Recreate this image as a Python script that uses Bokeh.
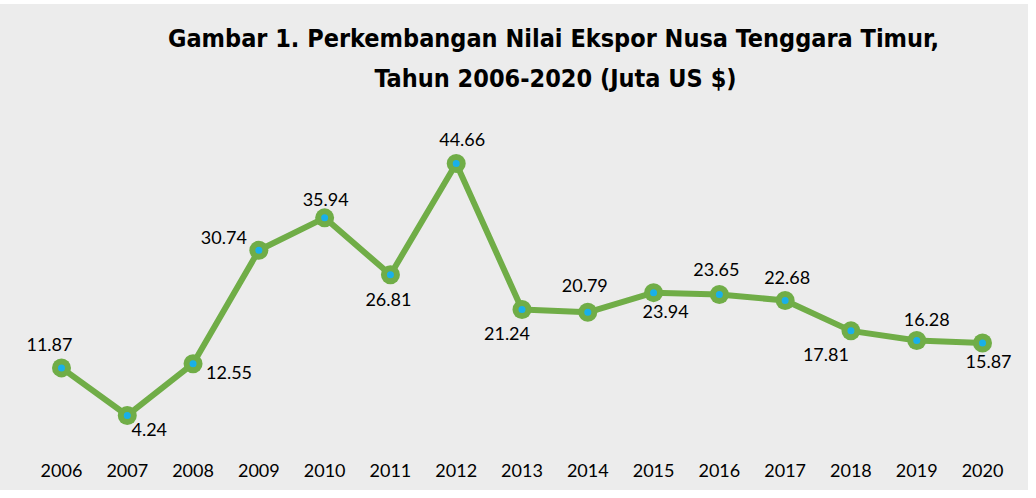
from bokeh.plotting import figure
from bokeh.models import ColumnDataSource, Range1d, Label, FixedTicker, Spacer
from bokeh.layouts import column
from bokeh.core.properties import value
from bokeh.embed import file_html
from bokeh.resources import INLINE

# ---- data ----
years = [2006, 2007, 2008, 2009, 2010, 2011, 2012, 2013, 2014, 2015, 2016, 2017, 2018, 2019, 2020]
export_values = [11.87, 4.24, 12.55, 30.74, 35.94, 26.81, 44.66, 21.24, 20.79, 23.94, 23.65, 22.68, 17.81, 16.28, 15.87]
title_lines = ["Gambar 1. Perkembangan Nilai Ekspor Nusa Tenggara Timur,",
               "Tahun 2006-2020 (Juta US $)"]

# data-label placement (pixel offsets of each label from its point)
label_dx = [-12, 22, 36, -35, 1, -2, 6, -15, -3, 12, -3, 2, -25, 10, 6]
label_dy = [-23, 14, 9, -13, -18, 25, -24, 24, -27, 19, -25, -23, 24, -21, 19]

BG = "#ececec"
GREEN = "#70ad47"
BLUE = "#19b0ea"

labels = [f"{v:.2f}" for v in export_values]
src = ColumnDataSource(dict(x=years, y=export_values, lab=labels, dx=label_dx, dy=label_dy))

p = figure(width=1028, height=486, output_backend="svg", toolbar_location=None,
           x_range=Range1d(2005.073, 2020.699), y_range=Range1d(-2.18, 70.16),
           y_axis_location=None,
           min_border_left=0, min_border_right=0, min_border_top=0, min_border_bottom=35)
p.background_fill_color = None
p.border_fill_color = None
p.styles = {"background-color": BG}
p.outline_line_color = None
p.grid.visible = False

p.xaxis.ticker = FixedTicker(ticks=years)
p.xaxis.axis_line_color = None
p.xaxis.major_tick_line_color = None
p.xaxis.minor_tick_line_color = None
p.xaxis.major_label_text_font = "Lato"
p.xaxis.major_label_text_font_size = "18px"
p.xaxis.major_label_text_color = "#000000"
p.xaxis.major_label_standoff = 2

p.line("x", "y", source=src, line_color=GREEN, line_width=6)
p.scatter("x", "y", source=src, size=19, fill_color=GREEN, line_color=None)
p.scatter("x", "y", source=src, size=7, fill_color=BLUE, line_color=None)

p.text("x", "y", text="lab", source=src, x_offset="dx", y_offset="dy",
       text_font=value("Lato"), text_font_size="18px", text_color="#000000",
       text_align="center", text_baseline="middle")

for t, xx, yy in zip(title_lines, [553, 555], [417, 377]):
    p.add_layout(Label(x=xx, y=yy, x_units="screen", y_units="screen", text=t,
                       text_font="DejaVu Sans Condensed", text_font_style="bold",
                       text_font_size="25px", text_color="#000000",
                       text_align="center", text_baseline="middle"))

layout = column(Spacer(width=1028, height=4), p, spacing=0)
open("out.html", "w").write(file_html(layout, INLINE))
